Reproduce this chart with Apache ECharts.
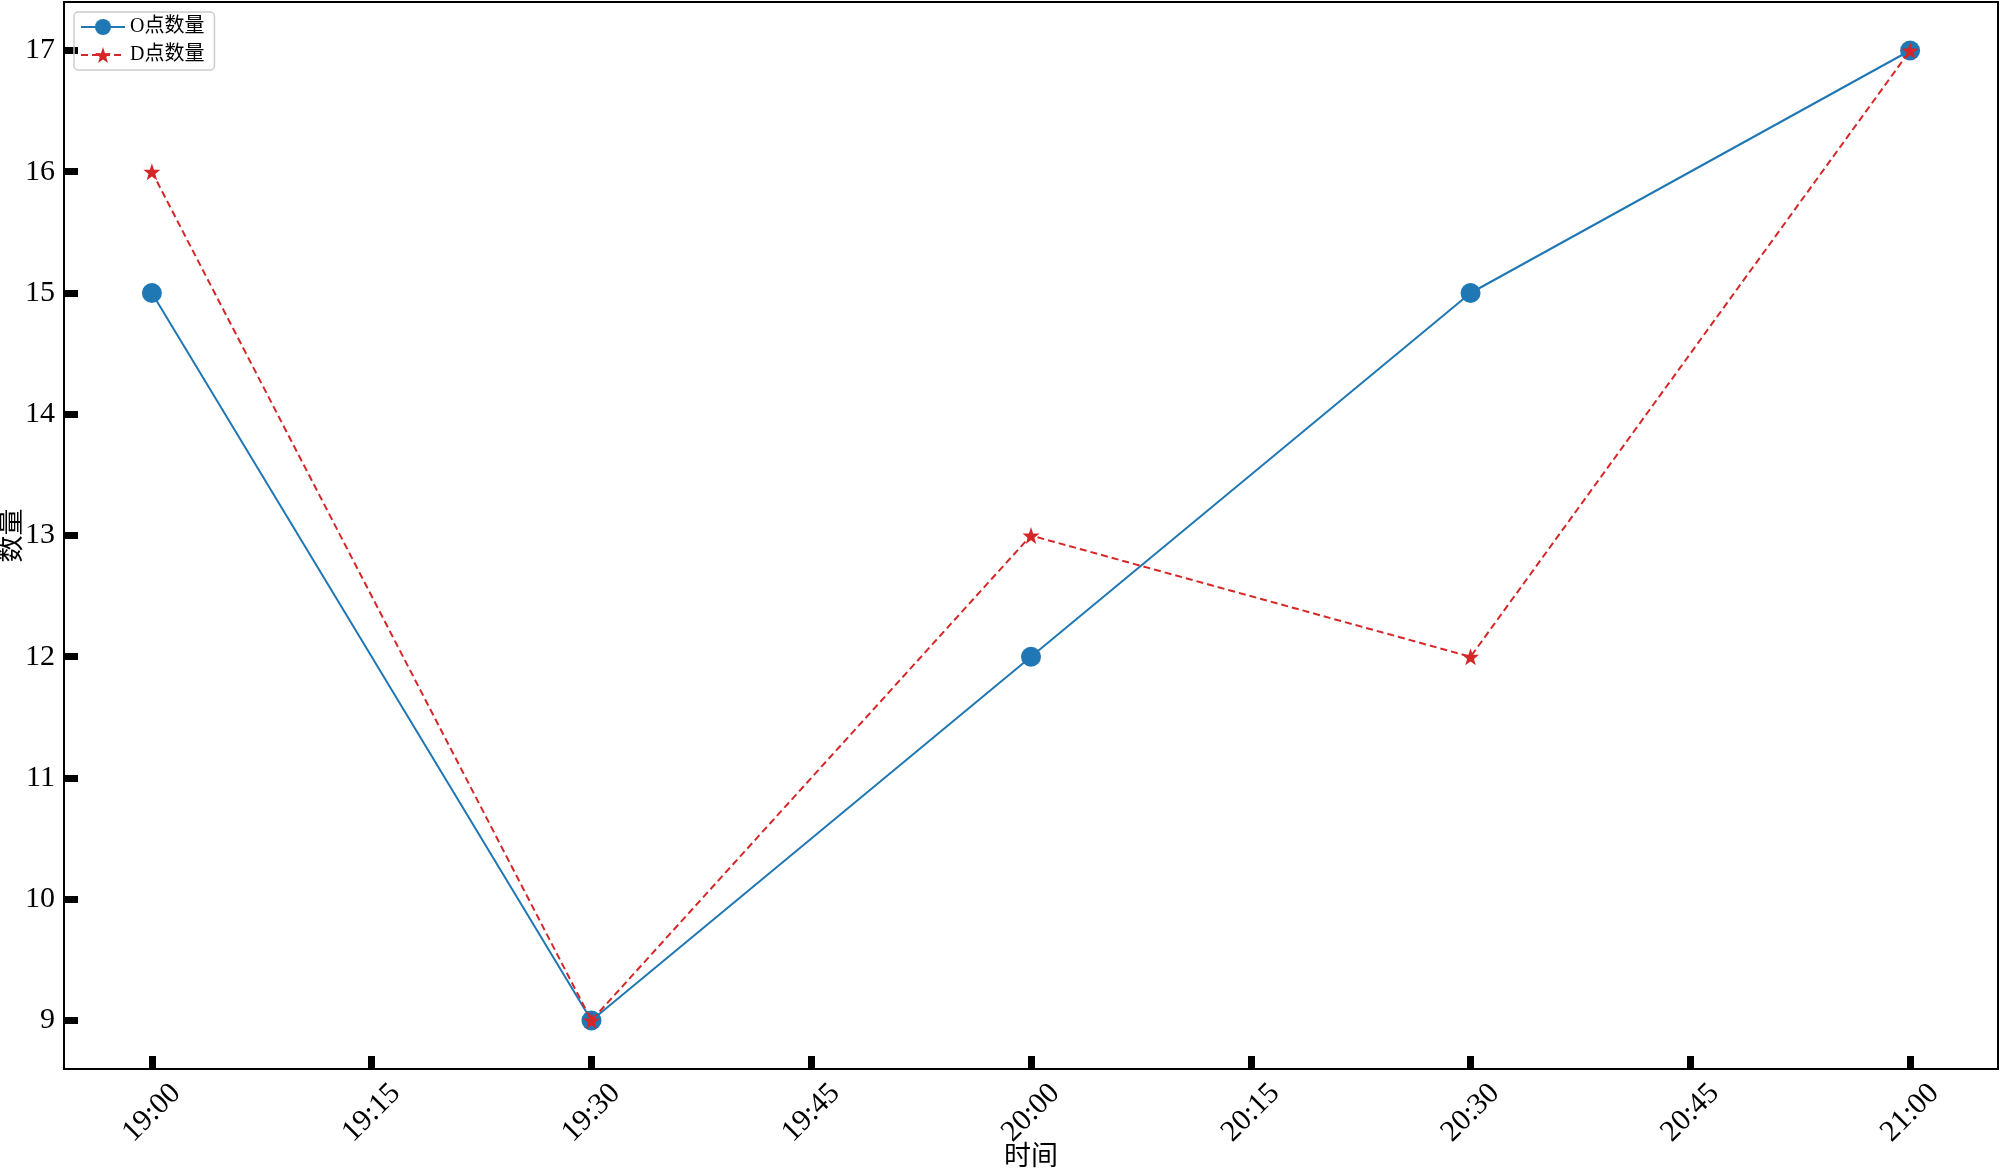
<!DOCTYPE html>
<html>
<head>
<meta charset="utf-8">
<script src="https://cdn.jsdelivr.net/npm/echarts@6/dist/echarts.min.js"></script>
<style>
html,body{margin:0;padding:0;background:#fff;}
#chart{width:2000px;height:1171px;}
</style>
</head>
<body>
<div id="chart"></div>
<script>
// 时间(分钟, 从19:00起)
const minutes = [0, 30, 60, 90, 120]
const oCount = [15, 9, 12, 15, 17]
const dCount = [16, 9, 13, 12, 17]
const xTickValues = [0, 15, 30, 45, 60, 75, 90, 105, 120]
const yTickValues = [9, 10, 11, 12, 13, 14, 15, 16, 17]

const fontFam = "'Liberation Serif', 'Noto Sans CJK SC', serif"
const starPath = 'path://M50,0 L61.8,35.1 L97.6,34.5 L69.1,56.7 L79.4,90.5 L50,70 L20.6,90.5 L30.9,56.7 L2.4,34.5 L38.2,35.1 Z'

function fmtTime(v){
    let h = 19 + Math.floor(v / 60)
    let m = v % 60
    m = m < 10 ? '0' + m : m
    return h + ':' + m
}

const myEcharts = echarts.init(document.getElementById('chart'))
const option = {
    animation: false,
    grid: {
        left: 64, right: 2, top: 2, bottom: 102,
        containLabel: false,
        outerBoundsMode: 'none',
        show: true, borderColor: '#000', borderWidth: 2
    },
    legend: {
        left: 74, top: 12,
        orient: 'vertical',
        itemWidth: 44, itemHeight: 20, itemGap: 8,
        padding: [5, 10, 5, 6],
        borderColor: '#ccc', borderWidth: 1.5, borderRadius: 4,
        textStyle: {fontFamily: fontFam, fontSize: 20, color: '#000'},
        data: ['O点数量', 'D点数量']
    },
    xAxis: {
        type: 'value',
        min: -6, max: 126,
        name: '时间',
        nameLocation: 'middle',
        nameGap: 75,
        nameMoveOverlap: false,
        nameTextStyle: {fontFamily: fontFam, fontSize: 27, color: '#000'},
        axisLine: {onZero: false, lineStyle: {color: '#000', width: 2}},
        splitLine: {show: false},
        axisTick: {
            inside: true, length: 13,
            customValues: xTickValues,
            lineStyle: {color: '#000', width: 7}
        },
        axisLabel: {
            customValues: xTickValues,
            rotate: 45,
            align: 'center',
            verticalAlign: 'middle',
            margin: 44,
            fontFamily: fontFam, fontSize: 30, color: '#000',
            formatter: fmtTime
        }
    },
    yAxis: {
        type: 'value',
        min: 8.6, max: 17.4,
        name: '数量',
        nameLocation: 'middle',
        nameRotate: 90,
        nameGap: 38,
        nameMoveOverlap: false,
        nameTextStyle: {fontFamily: fontFam, fontSize: 27, color: '#000'},
        axisLine: {show: true, onZero: false, lineStyle: {color: '#000', width: 2}},
        splitLine: {show: false},
        axisTick: {
            show: true, inside: true, length: 14,
            customValues: yTickValues,
            lineStyle: {color: '#000', width: 7}
        },
        axisLabel: {
            customValues: yTickValues,
            margin: 9,
            fontFamily: fontFam, fontSize: 30, color: '#000'
        }
    },
    series: [
        {
            name: 'O点数量',
            type: 'line',
            data: minutes.map((m, i) => [m, oCount[i]]),
            symbol: 'circle',
            symbolSize: 20,
            lineStyle: {color: '#1f77b4', width: 2},
            itemStyle: {color: '#1f77b4'},
            z: 2
        },
        {
            name: 'D点数量',
            type: 'line',
            data: minutes.map((m, i) => [m, dCount[i]]),
            symbol: starPath,
            symbolSize: 17,
            lineStyle: {color: '#d62728', width: 2, type: [7, 4]},
            itemStyle: {color: '#d62728'},
            z: 3
        }
    ]
}
myEcharts.setOption(option)
</script>
</body>
</html>
